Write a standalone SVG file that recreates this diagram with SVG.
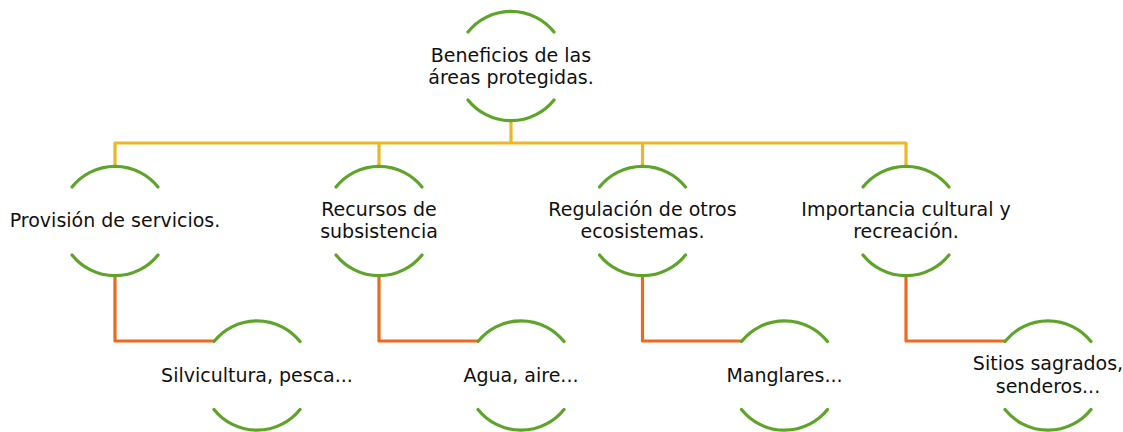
<svg xmlns="http://www.w3.org/2000/svg" width="1123" height="432" viewBox="0 0 1123 432">
<style>
.arc{fill:none;stroke:#5ea42a;stroke-width:3.2;stroke-linecap:round}
.y{fill:none;stroke:#e9b824;stroke-width:3.2;stroke-linejoin:round}
.o{fill:none;stroke:#eb6a1e;stroke-width:3.2;stroke-linejoin:round}
text{font-family:"DejaVu Sans",sans-serif;font-size:19px;fill:#111;text-anchor:middle}
</style>
<defs>
<path id="ring" class="arc" d="M-43,-34 A55,55 0 0 1 43,-34 M-43,34 A55,55 0 0 0 43,34"/>
</defs>
<g id="connectors">
<path class="y" d="M511,121 V143 M115,166 V143 H906 V166 M379,143 V166 M642.5,143 V166"/>
<path class="o" d="M115,276 V341 H214"/>
<path class="o" d="M379,276 V341 H478"/>
<path class="o" d="M642.5,276 V341 H741.5"/>
<path class="o" d="M906,276 V341 H1005"/>
</g>
<g id="n0"><use href="#ring" x="511" y="66"/><text x="511" y="62">Beneficios de las</text><text x="511" y="84">áreas protegidas.</text></g>
<g id="n1"><use href="#ring" x="115" y="221"/><text x="115" y="227">Provisión de servicios.</text></g>
<g id="n2"><use href="#ring" x="379" y="221"/><text x="379" y="216">Recursos de</text><text x="379" y="238">subsistencia</text></g>
<g id="n3"><use href="#ring" x="642.5" y="221"/><text x="642.5" y="216">Regulación de otros</text><text x="642.5" y="238">ecosistemas.</text></g>
<g id="n4"><use href="#ring" x="906" y="221"/><text x="906" y="216">Importancia cultural y</text><text x="906" y="238">recreación.</text></g>
<g id="n5"><use href="#ring" x="257" y="375.5"/><text x="257" y="382">Silvicultura, pesca...</text></g>
<g id="n6"><use href="#ring" x="521" y="375.5"/><text x="521" y="382">Agua, aire...</text></g>
<g id="n7"><use href="#ring" x="784.5" y="375.5"/><text x="784.5" y="382">Manglares...</text></g>
<g id="n8"><use href="#ring" x="1048" y="375.5"/><text x="1048" y="370">Sitios sagrados,</text><text x="1048" y="393">senderos...</text></g>
</svg>
